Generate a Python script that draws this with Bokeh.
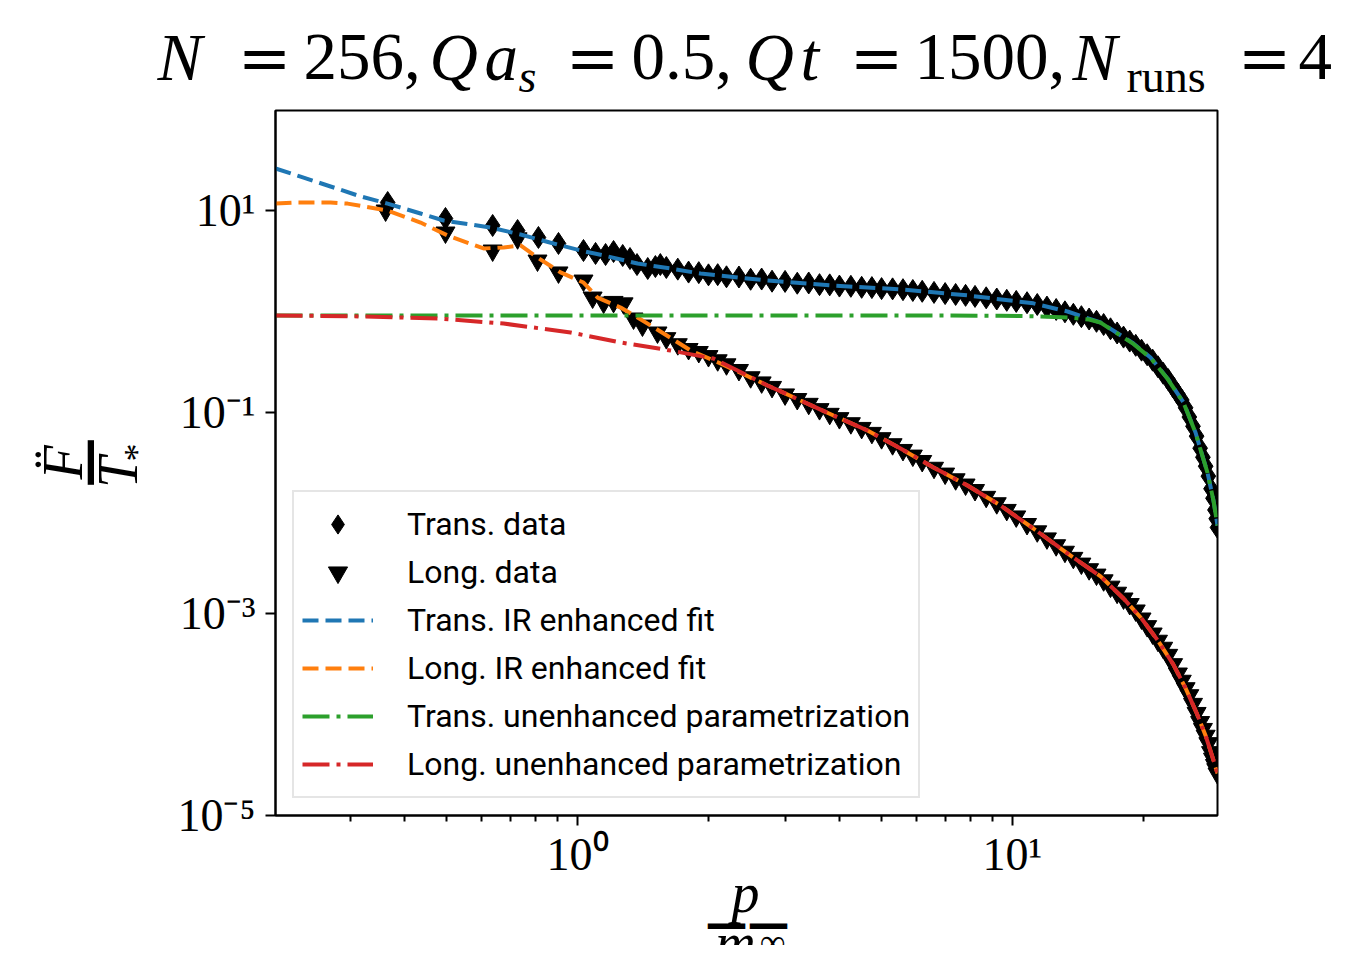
import math
from bokeh.plotting import figure
from bokeh.layouts import row, column
from bokeh.models import Range1d, FixedTicker, CustomJSTickFormatter, Label, Legend, LegendItem
from bokeh.embed import file_html
from bokeh.resources import INLINE

# ---------------- data ----------------
trans_p = [0.366, 0.497, 0.638, 0.728, 0.813, 0.904, 1.032, 1.10, 1.16, 1.21, 1.27, 1.32, 1.37, 1.45, 1.51,
           1.55, 1.60, 1.70, 1.80, 1.90, 2.0, 2.1, 2.2, 2.35, 2.5, 2.65, 2.8, 3.0, 3.2, 3.4, 3.6, 3.8, 4.0,
           4.25, 4.5, 4.75, 5.0, 5.3, 5.6, 5.9, 6.2, 6.6, 7.0, 7.4, 7.8, 8.2, 8.7, 9.2, 9.7, 10.2, 10.8,
           11.4, 12.0, 12.6, 13.2, 13.8, 14.4, 15.0, 15.6, 16.2, 16.8, 17.4, 18.0, 18.6, 19.2, 19.8, 20.4,
           21.0, 21.6, 22.2, 22.8, 23.4, 24.0, 24.5, 25.0, 25.5, 26.0, 26.5, 27.0, 27.4, 27.8, 28.2, 28.6,
           28.9, 29.2, 29.4, 29.6]
trans_F = [12.0, 8.33, 7.10, 6.33, 5.40, 4.71, 4.01, 3.75, 3.66, 3.92, 3.58, 3.34, 2.91, 2.66, 2.78,
           2.91, 2.72, 2.62, 2.45, 2.42, 2.30, 2.31, 2.20, 2.19, 2.08, 2.09, 1.99, 1.98, 1.90, 1.91, 1.84,
           1.83, 1.78, 1.77, 1.73, 1.72, 1.68, 1.67, 1.64, 1.61, 1.58, 1.54, 1.50, 1.47, 1.44, 1.406, 1.362,
           1.325, 1.286, 1.254, 1.218, 1.169, 1.102, 1.043, 0.989, 0.934, 0.885, 0.839, 0.796, 0.740, 0.671,
           0.610, 0.555, 0.507, 0.460, 0.412, 0.371, 0.328, 0.282, 0.2434, 0.2103, 0.1780, 0.1510, 0.1320,
           0.1105, 0.0895, 0.0724, 0.0578, 0.0439, 0.0357, 0.0291, 0.0232, 0.0174, 0.0140, 0.01071,
           0.00878, 0.00718]

long_p = [0.362, 0.497, 0.638, 0.728, 0.809, 0.904, 1.032, 1.083, 1.148, 1.21, 1.276, 1.345, 1.41, 1.527,
          1.60, 1.70, 1.80, 1.90, 2.0, 2.1, 2.2, 2.35, 2.5, 2.65, 2.8, 3.0, 3.2, 3.4, 3.6, 3.8, 4.0, 4.25,
          4.5, 4.75, 5.0, 5.3, 5.6, 5.9, 6.2, 6.6, 7.0, 7.4, 7.8, 8.2, 8.7, 9.2, 9.7, 10.2, 10.8, 11.4, 12.0,
          12.6, 13.2, 13.8, 14.4, 15.0, 15.6, 16.2, 16.8, 17.4, 18.0, 18.6, 19.2, 19.8, 20.4, 21.0, 21.6,
          22.2, 22.8, 23.4, 24.0, 24.5, 25.0, 25.5, 26.0, 26.5, 27.0, 27.4, 27.8, 28.2, 28.6, 28.9, 29.2,
          29.4, 29.6]
long_F = [10.0, 6.05, 4.01, 5.3, 3.19, 2.43, 2.02, 1.37, 1.22, 1.24, 1.20, 0.849, 0.723, 0.617,
          0.542, 0.472, 0.423, 0.395, 0.360, 0.327, 0.2983, 0.262, 0.222, 0.1973, 0.178, 0.150, 0.1350,
          0.121, 0.1072, 0.0963, 0.0873, 0.0777, 0.0698, 0.0623, 0.0552, 0.0481, 0.0422, 0.0371, 0.0328,
          0.0281, 0.0246, 0.0216, 0.01916, 0.01690, 0.01447, 0.01250, 0.01073, 0.00925, 0.00778, 0.00658,
          0.00560, 0.00479, 0.00413, 0.00359, 0.00315, 0.00277, 0.00245, 0.00215, 0.00186, 0.00162,
          0.00142, 0.00125, 0.00108, 0.000899, 0.000755, 0.000638, 0.000541, 0.000461, 0.000392,
          0.000317, 0.000256, 0.000217, 0.000183, 0.000156, 0.000128, 0.000104, 8.45e-5, 7.22e-5,
          6.18e-5, 5.22e-5, 4.25e-5, 3.66e-5, 3.17e-5, 2.88e-5, 2.61e-5]

fit_trans_p = [0.2021, 0.2308, 0.2705, 0.3170, 0.3658, 0.4355, 0.4920, 0.5675, 0.6310, 0.7395, 0.8807,
               1.016, 1.148, 1.374, 1.636, 1.918, 2.734, 3.877, 5.527, 7.880, 11.17, 13.38, 15.94, 17.4,
               18.97, 20.76, 21.6, 22.72, 23.4, 24.73, 25.5, 26.35, 27.0, 28.07, 28.98, 29.6]
fit_trans_F = [26.1, 21.7, 17.3, 13.8, 11.7, 9.34, 7.96, 7.26, 6.78, 5.78, 4.71, 4.01, 3.58, 2.98, 2.66,
               2.37, 2.02, 1.80, 1.65, 1.44, 1.20, 0.996, 0.775, 0.61, 0.480, 0.348, 0.282, 0.216, 0.178,
               0.125, 0.0895, 0.0628, 0.044, 0.0252, 0.0133, 0.0075]

fit_long_p = [0.2021, 0.2272, 0.2705, 0.2960, 0.3658, 0.4355, 0.5027, 0.6080, 0.6760, 0.7395, 0.8091,
              0.9140, 1.032, 1.112, 1.256, 1.374, 1.577, 1.819, 2.132, 2.734, 3.256, 3.877, 4.642, 5.527,
              6.583, 7.880, 9.385, 11.17, 13.38, 15.94, 18.0, 19.8, 21.6, 23.4, 25.0, 26.5, 27.8, 28.9, 29.6]
fit_long_F = [11.7, 12.0, 12.0, 11.7, 10.0, 7.60, 5.65, 4.20, 4.30, 4.50, 3.42, 2.43, 1.93, 1.37, 1.09,
              0.869, 0.603, 0.409, 0.304, 0.184, 0.1305, 0.0927, 0.0658, 0.0436, 0.0283, 0.0187, 0.01187,
              0.00702, 0.00397, 0.00235, 0.00142, 0.000899, 0.000541, 0.000317, 0.000183, 0.000104,
              6.18e-5, 3.66e-5, 2.61e-5]

unenh_trans_p = [0.2021, 1.0, 3.0, 6.0, 9.385, 11.17, 13.38, 15.0, 15.94, 17.4, 18.97, 20.76, 21.6, 22.72,
                 23.4, 24.73, 25.5, 26.35, 27.0, 28.07, 28.98, 29.6]
unenh_trans_F = [0.909, 0.909, 0.909, 0.908, 0.905, 0.895, 0.87, 0.83, 0.772, 0.605, 0.475, 0.345, 0.28,
                 0.214, 0.177, 0.124, 0.089, 0.0625, 0.0438, 0.0251, 0.0132, 0.0075]

unenh_long_p = [0.2021, 0.30, 0.4766, 0.676, 0.9636, 1.256, 1.636, 2.054, 2.734, 3.256, 3.877, 4.642, 5.527,
                6.583, 7.880, 9.385, 11.17, 13.38, 15.94, 18.0, 19.8, 21.6, 23.4, 25.0, 26.5, 27.8, 28.9, 29.6]
unenh_long_F = [0.909, 0.895, 0.849, 0.757, 0.617, 0.491, 0.409, 0.340, 0.184, 0.1305, 0.0927, 0.0658,
                0.0436, 0.0283, 0.0187, 0.01187, 0.00702, 0.00397, 0.00235, 0.00142, 0.000899, 0.000541,
                0.000317, 0.000183, 0.000104, 6.18e-5, 3.66e-5, 2.61e-5]

x_major_ticks = [1.0, 10.0]
x_tick_labels = ["10\u2070", "10\u00b9"]
x_minor_ticks = [0.2, 0.3, 0.4, 0.5, 0.6, 0.7, 0.8, 0.9, 2, 3, 4, 5, 6, 7, 8, 9, 20]
y_major_ticks = [1e-5, 1e-3, 1e-1, 10.0]
y_tick_labels = ["10\u207b\u2075", "10\u207b\u00b3", "10\u207b\u00b9", "10\u00b9"]

legend_labels = ["Trans. data", "Long. data", "Trans. IR enhanced fit", "Long. IR enhanced fit",
                 "Trans. unenhanced parametrization", "Long. unenhanced parametrization"]

# ---------------- layout geometry (picture px) ----------------
W, H = 1333, 945
LEFT_W = 156            # column holding the y-axis label
TOP_H = 105             # row holding the title
MAIN_H = 780            # main plot (frame + x tick labels)
BOT_H = H - TOP_H - MAIN_H
FRAME_L, FRAME_T, FRAME_W, FRAME_H = 275, 110, 942, 705
BASE_SHIFT = 0.31       # rendered baseline sits this many em below the anchor


def text_panel(w, h):
    f = figure(width=w, height=h, x_range=(0, 1), y_range=(0, 1), min_border=0,
               toolbar_location=None, x_axis_location=None, y_axis_location=None,
               output_backend="svg", outline_line_color=None, frame_align=False)
    f.grid.visible = False
    f.background_fill_color = "white"
    f.border_fill_color = "white"
    return f


def txt(panel, ox, oy, h, s, px, py, size, font="Liberation Serif", style="normal", rotated=False,
        align="left"):
    """px, py: wanted baseline point in picture pixels."""
    if rotated:
        px = px - BASE_SHIFT * size
    else:
        py = py - BASE_SHIFT * size
    panel.add_layout(Label(x=px - ox, y=(oy + h) - py, x_units="screen", y_units="screen",
                           text=s, text_font=font, text_font_size=f"{size}px", text_font_style=style,
                           text_color="black", angle=(math.pi / 2 if rotated else 0.0),
                           text_align=align, text_baseline="alphabetic"))


# ---------------- main figure ----------------
main_w = W - LEFT_W
p = figure(width=main_w, height=MAIN_H, x_axis_type="log", y_axis_type="log",
           x_range=Range1d(0.2021, 29.6), y_range=Range1d(1e-5, 98.1),
           output_backend="svg", toolbar_location=None, frame_align=False,
           min_border_left=FRAME_L - LEFT_W, min_border_top=FRAME_T - TOP_H,
           min_border_right=main_w - (FRAME_L - LEFT_W) - FRAME_W,
           min_border_bottom=MAIN_H - (FRAME_T - TOP_H) - FRAME_H)
p.grid.visible = False
p.outline_line_color = "black"
p.outline_line_width = 2
p.outline_line_alpha = 1.0
p.background_fill_color = "white"
p.border_fill_color = "white"

fmt_code = """
let best = 0, bd = Infinity;
for (let i = 0; i < vals.length; i++) {
  const d = Math.abs(Math.log(vals[i]) - Math.log(tick));
  if (d < bd) { bd = d; best = i; }
}
return labs[best];
"""

xa = p.xaxis[0]
xa.ticker = FixedTicker(ticks=x_major_ticks, minor_ticks=x_minor_ticks)
xa.formatter = CustomJSTickFormatter(args=dict(vals=x_major_ticks, labs=x_tick_labels), code=fmt_code)
ya = p.yaxis[0]
ya.ticker = FixedTicker(ticks=y_major_ticks, minor_ticks=[])
ya.formatter = CustomJSTickFormatter(args=dict(vals=y_major_ticks, labs=y_tick_labels), code=fmt_code)
for ax in (xa, ya):
    ax.major_label_text_font = "Liberation Serif"
    ax.major_label_text_font_size = "46px"
    ax.major_label_text_color = "black"
    ax.axis_line_width = 2
    ax.axis_line_color = "black"
    ax.major_tick_line_color = "black"
    ax.minor_tick_line_color = "black"
    ax.major_tick_line_width = 2
    ax.minor_tick_line_width = 2
    ax.major_tick_out = 10
    ax.major_tick_in = 0
    ax.minor_tick_out = 6
    ax.minor_tick_in = 0
xa.major_label_standoff = 3
ya.major_label_standoff = 10
ya.minor_tick_line_color = None

r_td = p.scatter(trans_p, trans_F, marker="diamond", size=22, fill_color="black", line_color="black")
r_ld = p.scatter(long_p, long_F, marker="inverted_triangle", size=19, fill_color="black", line_color="black")
r_tf = p.line(fit_trans_p, fit_trans_F, line_color="#1f77b4", line_width=4, line_dash="16 7")
r_lf = p.line(fit_long_p, fit_long_F, line_color="#ff7f0e", line_width=4, line_dash="16 7")
r_tu = p.line(unenh_trans_p, unenh_trans_F, line_color="#2ca02c", line_width=4, line_dash="27 7 4 7")
r_lu = p.line(unenh_long_p, unenh_long_F, line_color="#d62728", line_width=4, line_dash="27 7 4 7")

legend = Legend(items=[LegendItem(label=lab, renderers=[r]) for lab, r in
                       zip(legend_labels, [r_td, r_ld, r_tf, r_lf, r_tu, r_lu])],
                location=(17, 17))
legend.label_text_font = "Roboto"
legend.label_text_font_size = "32px"
legend.label_text_color = "black"
legend.glyph_width = 71
legend.glyph_height = 48
legend.label_height = 48
legend.label_standoff = 34
legend.padding = 8
legend.spacing = 0
legend.margin = 0
legend.border_line_color = "#cccccc"
legend.border_line_width = 2
legend.background_fill_alpha = 0.8
p.add_layout(legend)

# ---------------- title panel ----------------
tp = text_panel(main_w, TOP_H)
TB, SB = 77, 90
for s, x, y, sz, st, al, fnt in [
        ("N", 157, TB, 67, "italic", "left", "Liberation Serif"),
        ("=", 264, TB, 64, "normal", "center", "DejaVu Serif"),
        ("256,", 303, TB, 67, "normal", "left", "Liberation Serif"),
        ("Q", 429, TB, 67, "italic", "left", "Liberation Serif"),
        ("a", 484, TB, 67, "italic", "left", "Liberation Serif"),
        ("s", 518, SB, 46, "italic", "left", "Liberation Serif"),
        ("=", 592, TB, 64, "normal", "center", "DejaVu Serif"),
        ("0.5,", 631, TB, 67, "normal", "left", "Liberation Serif"),
        ("Q", 745, TB, 67, "italic", "left", "Liberation Serif"),
        ("t", 800, TB, 67, "italic", "left", "Liberation Serif"),
        ("=", 876, TB, 64, "normal", "center", "DejaVu Serif"),
        ("1500,", 914, TB, 67, "normal", "left", "Liberation Serif"),
        ("N", 1072, TB, 67, "italic", "left", "Liberation Serif"),
        ("runs", 1126, SB, 46, "normal", "left", "Liberation Serif"),
        ("=", 1264, TB, 64, "normal", "center", "DejaVu Serif"),
        ("4", 1298, TB, 67, "normal", "left", "Liberation Serif")]:
    txt(tp, LEFT_W, 0, TOP_H, s, x, y, sz, font=fnt, style=st, align=al)

# ---------------- y-axis label panel (rotated fraction) ----------------
lp = text_panel(LEFT_W, H)
txt(lp, 0, 0, H, "F\u0308", 80, 462, 56, style="italic", rotated=True, align="center")
txt(lp, 0, 0, H, "\u2014", 103, 462, 50, font="DejaVu Sans", style="bold", rotated=True, align="center")
txt(lp, 0, 0, H, "T", 135, 472, 56, style="italic", rotated=True, align="center")
txt(lp, 0, 0, H, "*", 148, 452, 36, rotated=True, align="center")

# ---------------- x-axis label panel (fraction) ----------------
bp = text_panel(main_w, BOT_H)
BO = TOP_H + MAIN_H
txt(bp, LEFT_W, BO, BOT_H, "p", 745, 910, 56, style="italic", align="center")
txt(bp, LEFT_W, BO, BOT_H, "\u2014\u2014", 747, 936, 42, font="DejaVu Sans", style="bold", align="center")
txt(bp, LEFT_W, BO, BOT_H, "m", 735, 960, 56, style="italic", align="center")
txt(bp, LEFT_W, BO, BOT_H, "\u221e", 772, 953, 36, align="center")

layout = row(lp, column(tp, p, bp, spacing=0), spacing=0)
open("out.html", "w").write(file_html(layout, INLINE))
